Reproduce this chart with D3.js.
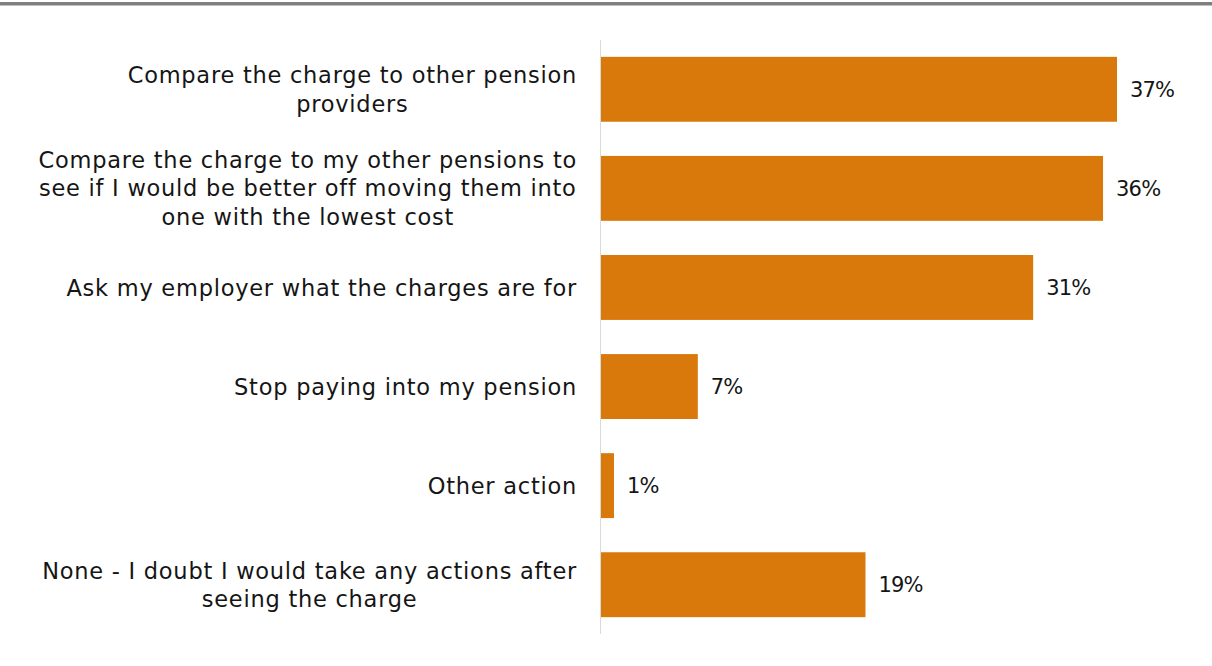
<!DOCTYPE html>
<html>
<head>
<meta charset="utf-8">
<script src="https://cdn.jsdelivr.net/npm/d3@7"></script>
<style>
  body { margin: 0; background: #fff; }
  svg { display: block; }
  text { font-family: "DejaVu Sans", sans-serif; fill: #151515; }
</style>
</head>
<body>
<svg width="1212" height="666"></svg>
<script>
// Data
const categories = [
  ["Compare the charge to other pension", "providers"],
  ["Compare the charge to my other pensions to", "see if I would be better off moving them into", "one with the lowest cost"],
  ["Ask my employer what the charges are for"],
  ["Stop paying into my pension"],
  ["Other action"],
  ["None - I doubt I would take any actions after", "seeing the charge"]
];
const values = [37, 36, 31, 7, 1, 19];

const svg = d3.select("svg");
const x0 = 600, plot_top = 40, plot_bottom = 634;
const labelSize = 22.5, valueSize = 21, lineH = 28.5;

// top grey rule
svg.append("rect")
   .attr("x", 0).attr("y", 2)
   .attr("width", 1212).attr("height", 3.5)
   .attr("fill", "#7f7f7f");

const x = d3.scaleLinear().domain([0, 37]).range([x0, 1117]);
const y = d3.scaleBand()
  .domain(d3.range(values.length))
  .range([plot_top, plot_bottom])
  .paddingInner(0.345)
  .paddingOuter(0.17);

svg.selectAll("rect.bar")
   .data(values)
   .enter()
   .append("rect")
   .attr("class", "bar")
   .attr("x", x(0))
   .attr("y", (d, i) => y(i))
   .attr("width", d => x(d) - x(0))
   .attr("height", y.bandwidth())
   .attr("fill", "#d9780b");

// axis line
svg.append("line")
   .attr("x1", x0 + 0.5).attr("x2", x0 + 0.5)
   .attr("y1", plot_top).attr("y2", plot_bottom)
   .attr("stroke", "#d9d9d9").attr("stroke-width", 1);

// value labels
svg.selectAll("text.val")
   .data(values)
   .enter()
   .append("text")
   .attr("class", "val")
   .attr("x", d => x(d) + 13)
   .attr("y", (d, i) => y(i) + y.bandwidth() / 2)
   .attr("dy", "0.36em")
   .attr("font-size", valueSize)
   .attr("letter-spacing", -0.8)
   .text(d => d + "%");

// category labels
const labels = svg.selectAll("text.cat")
   .data(categories)
   .enter()
   .append("text")
   .attr("class", "cat")
   .attr("text-anchor", "middle")
   .attr("font-size", labelSize)
   .attr("letter-spacing", 0.75);

labels.each(function(lines, i) {
  const cy = y(i) + y.bandwidth() / 2;
  const t = d3.select(this);
  lines.forEach((line, j) => {
    t.append("tspan")
     .attr("y", cy + (j - (lines.length - 1) / 2) * lineH)
     .attr("dy", "0.36em")
     .text(line);
  });
  // right-align the centred block at x=577
  let w = 0;
  t.selectAll("tspan").each(function() { w = Math.max(w, this.getComputedTextLength()); });
  t.selectAll("tspan").attr("x", 577 - w / 2);
});
</script>
</body>
</html>
